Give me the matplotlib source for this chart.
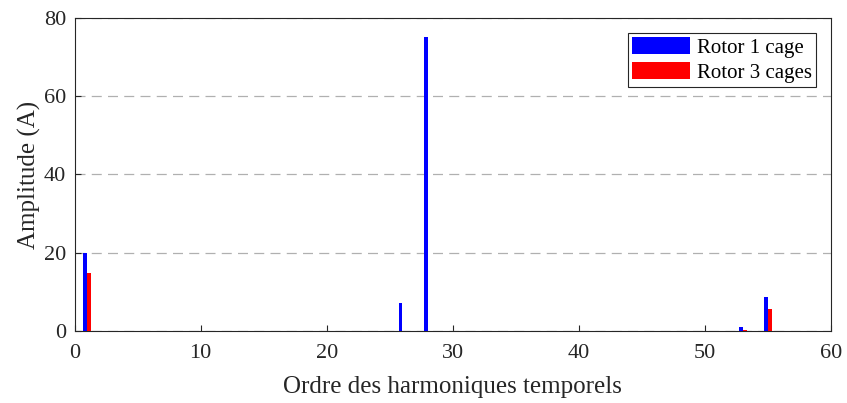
import matplotlib
matplotlib.use("Agg")
import matplotlib.pyplot as plt
import numpy as np

harmonics = [1, 26, 28, 53, 55]
rotor_1_cage = [19.8, 7.0, 75.3, 1.0, 8.7]
rotor_3_cages = [14.8, 0.0, 0.0, 0.2, 5.5]
series_labels = ["Rotor 1 cage", "Rotor 3 cages"]

plt.rcParams["font.family"] = ["Liberation Serif", "DejaVu Serif"]

fig = plt.figure(figsize=(8.47, 4.03), dpi=100)
ax = fig.add_axes([0.0880, 0.1797, 0.8932, 0.7749])

x = np.array(harmonics, dtype=float)
w = 0.3
ax.bar(x - w / 2, rotor_1_cage, width=w, color="#0000ff", label=series_labels[0], zorder=3)
ax.bar(x + w / 2, rotor_3_cages, width=w, color="#ff0000", label=series_labels[1], zorder=3)

ax.set_xlim(0, 60)
ax.set_ylim(0, 80)
ax.set_xticks(np.arange(0, 61, 10))
ax.set_yticks(np.arange(0, 81, 20))
ax.yaxis.grid(True, linestyle=(0, (8, 5)), color="#b0b0b0", linewidth=0.9, zorder=0)
ax.tick_params(direction="in", length=4, labelsize=16, pad=6,
               color="#262626", labelcolor="#262626")
ax.tick_params(axis="x", pad=10)
for s in ax.spines.values():
    s.set_color("#262626")
    s.set_linewidth(0.8)

ax.set_xlabel("Ordre des harmoniques temporels", fontsize=18, color="#262626", labelpad=9)
ax.set_ylabel("Amplitude (A)", fontsize=18, color="#262626", labelpad=2)

leg = ax.legend(loc="upper right", fontsize=15, fancybox=False, framealpha=1,
                edgecolor="#262626", handlelength=2.8, handleheight=0.9,
                borderaxespad=0.7, labelspacing=0.2, handletextpad=0.35,
                borderpad=0.2)
leg.get_frame().set_linewidth(0.8)

fig.savefig("out.png", dpi=100)
